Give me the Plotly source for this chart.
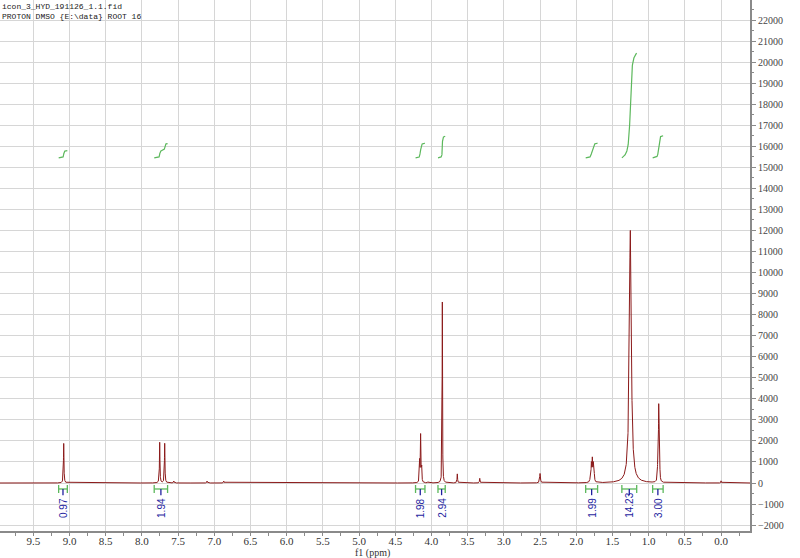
import numpy as np
import plotly.graph_objects as go

# ---------------- data ----------------
# peak list: chemical shift (ppm), height (intensity), half width (ppm)
peak_ppm = [9.080, 7.754, 7.685, 7.560, 7.100, 6.870,
            4.163, 4.150, 4.137, 4.050, 3.850, 3.643, 3.333, 2.500,
            1.804, 1.791, 1.778, 1.765, 1.752,
            1.253, 0.873, 0.861, 0.849, 0.000]
peak_height = [1880, 1930, 1880, 90, 90, 90,
               1100, 2200, 1100, 50, 8600, 430, 220, 450,
               350, 800, 1000, 800, 350,
               12000, 1250, 3500, 1250, 100]
peak_hwhm = [0.004, 0.004, 0.004, 0.004, 0.004, 0.004,
             0.0035, 0.0035, 0.0035, 0.004, 0.003, 0.004, 0.004, 0.006,
             0.005, 0.005, 0.005, 0.005, 0.005,
             0.016, 0.004, 0.004, 0.004, 0.003]

# integration regions
int_hi = [9.15, 7.83, 4.22, 3.91, 1.87, 1.37, 0.945]
int_lo = [9.03, 7.645, 4.09, 3.81, 1.705, 1.165, 0.80]
int_val = [0.97, 1.94, 1.98, 2.94, 1.99, 14.23, 3.00]
int_text = ["0.97", "1.94", "1.98", "2.94", "1.99", "14.23", "3.00"]

header_lines = ["icon_3_HYD_191126_1.1.fid", "PROTON DMSO {E:\\data} ROOT 16"]

# ---------------- build spectrum ----------------
X_MIN, X_MAX = -0.40, 9.96
ppm = np.union1d(np.arange(X_MIN, X_MAX, 0.0005), np.array(peak_ppm))
spec = np.zeros_like(ppm)
for p, h, w in zip(peak_ppm, peak_height, peak_hwhm):
    spec += h / (1.0 + ((ppm - p) / w) ** 2)

LINE_RED = "#8b1a1a"
GREEN = "#5cb85c"
BLUE = "#1f1f9f"

fig = go.Figure()
fig.add_trace(go.Scatter(x=ppm, y=spec, mode="lines",
                         line=dict(color=LINE_RED, width=1),
                         hoverinfo="skip", showlegend=False))

# integral curves (cumulative integral from high to low ppm)
INT_BASE = 15450
INT_SCALE = 350
for hi, lo, v in zip(int_hi, int_lo, int_val):
    m = (ppm >= lo) & (ppm <= hi)
    xs = ppm[m][::-1]
    ys = spec[m][::-1]
    cum = np.cumsum(ys)
    cum = cum / cum[-1]
    fig.add_trace(go.Scatter(x=xs, y=INT_BASE + cum * v * INT_SCALE, mode="lines",
                             line=dict(color=GREEN, width=1.2),
                             hoverinfo="skip", showlegend=False))

# integration brackets below baseline
BR_MID, BR_TOP, BR_BOT, TICK_BOT = -285, -95, -475, -580
bx, by, tx, ty = [], [], [], []
for hi, lo in zip(int_hi, int_lo):
    c = (hi + lo) / 2
    bx += [hi, hi, None, hi, lo, None, lo, lo, None]
    by += [BR_TOP, BR_BOT, None, BR_MID, BR_MID, None, BR_TOP, BR_BOT, None]
    tx += [c, c, None]
    ty += [BR_MID, TICK_BOT, None]
fig.add_trace(go.Scatter(x=bx, y=by, mode="lines", line=dict(color=GREEN, width=1.3),
                         hoverinfo="skip", showlegend=False))
fig.add_trace(go.Scatter(x=tx, y=ty, mode="lines", line=dict(color=BLUE, width=1.3),
                         hoverinfo="skip", showlegend=False))

annotations = []
for hi, lo, t in zip(int_hi, int_lo, int_text):
    annotations.append(dict(x=(hi + lo) / 2, y=-1760, xref="x", yref="y", text=t,
                            textangle=-90, showarrow=False, yanchor="bottom",
                            xanchor="center",
                            font=dict(family="Liberation Sans, Arial", size=10, color=BLUE)))

annotations.append(dict(x=0, y=1, xref="paper", yref="paper",
                        text="<br>".join(header_lines), showarrow=False,
                        xanchor="left", yanchor="top", align="left",
                        font=dict(family="Liberation Mono, monospace", size=8, color="#222")))

annotations.append(dict(x=0.496, y=-0.0415, xref="paper", yref="paper", text="f1 (ppm)",
                        showarrow=False, xanchor="center", yanchor="middle",
                        font=dict(family="Liberation Serif, serif", size=10, color="#333")))

fig.update_layout(
    width=800, height=558,
    margin=dict(l=0, r=50, t=0, b=27, autoexpand=False),
    paper_bgcolor="white", plot_bgcolor="white",
    annotations=annotations,
    xaxis=dict(range=[X_MAX, X_MIN], dtick=0.5, tick0=0, tickformat=".1f",
               showgrid=True, gridcolor="#d6d6d6", gridwidth=1,
               zeroline=False, showline=True, linecolor="#8a8a8a", linewidth=1.5,
               ticks="outside", ticklen=3, tickcolor="#8a8a8a",
               ticklabelstandoff=-4,
               minor=dict(dtick=0.25, tick0=0, ticks="outside", ticklen=3,
                          tickcolor="#8a8a8a", showgrid=False),
               tickfont=dict(family="Liberation Serif, serif", size=11, color="#333")),
    yaxis=dict(range=[-2281, 22951], side="right", dtick=1000, tick0=0,
               tickformat="d",
               showgrid=True, gridcolor="#d6d6d6", gridwidth=1,
               zeroline=False, showline=True, linecolor="#8a8a8a", linewidth=2,
               ticks="outside", ticklen=4, tickcolor="#8a8a8a",
               minor=dict(dtick=500, tick0=0, ticks="outside", ticklen=2,
                          tickcolor="#8a8a8a", showgrid=False),
               tickfont=dict(family="Liberation Serif, serif", size=10, color="#444")),
)

fig.write_html("out.html", config={"displayModeBar": False},
               post_script="document.body.style.margin='0';")
